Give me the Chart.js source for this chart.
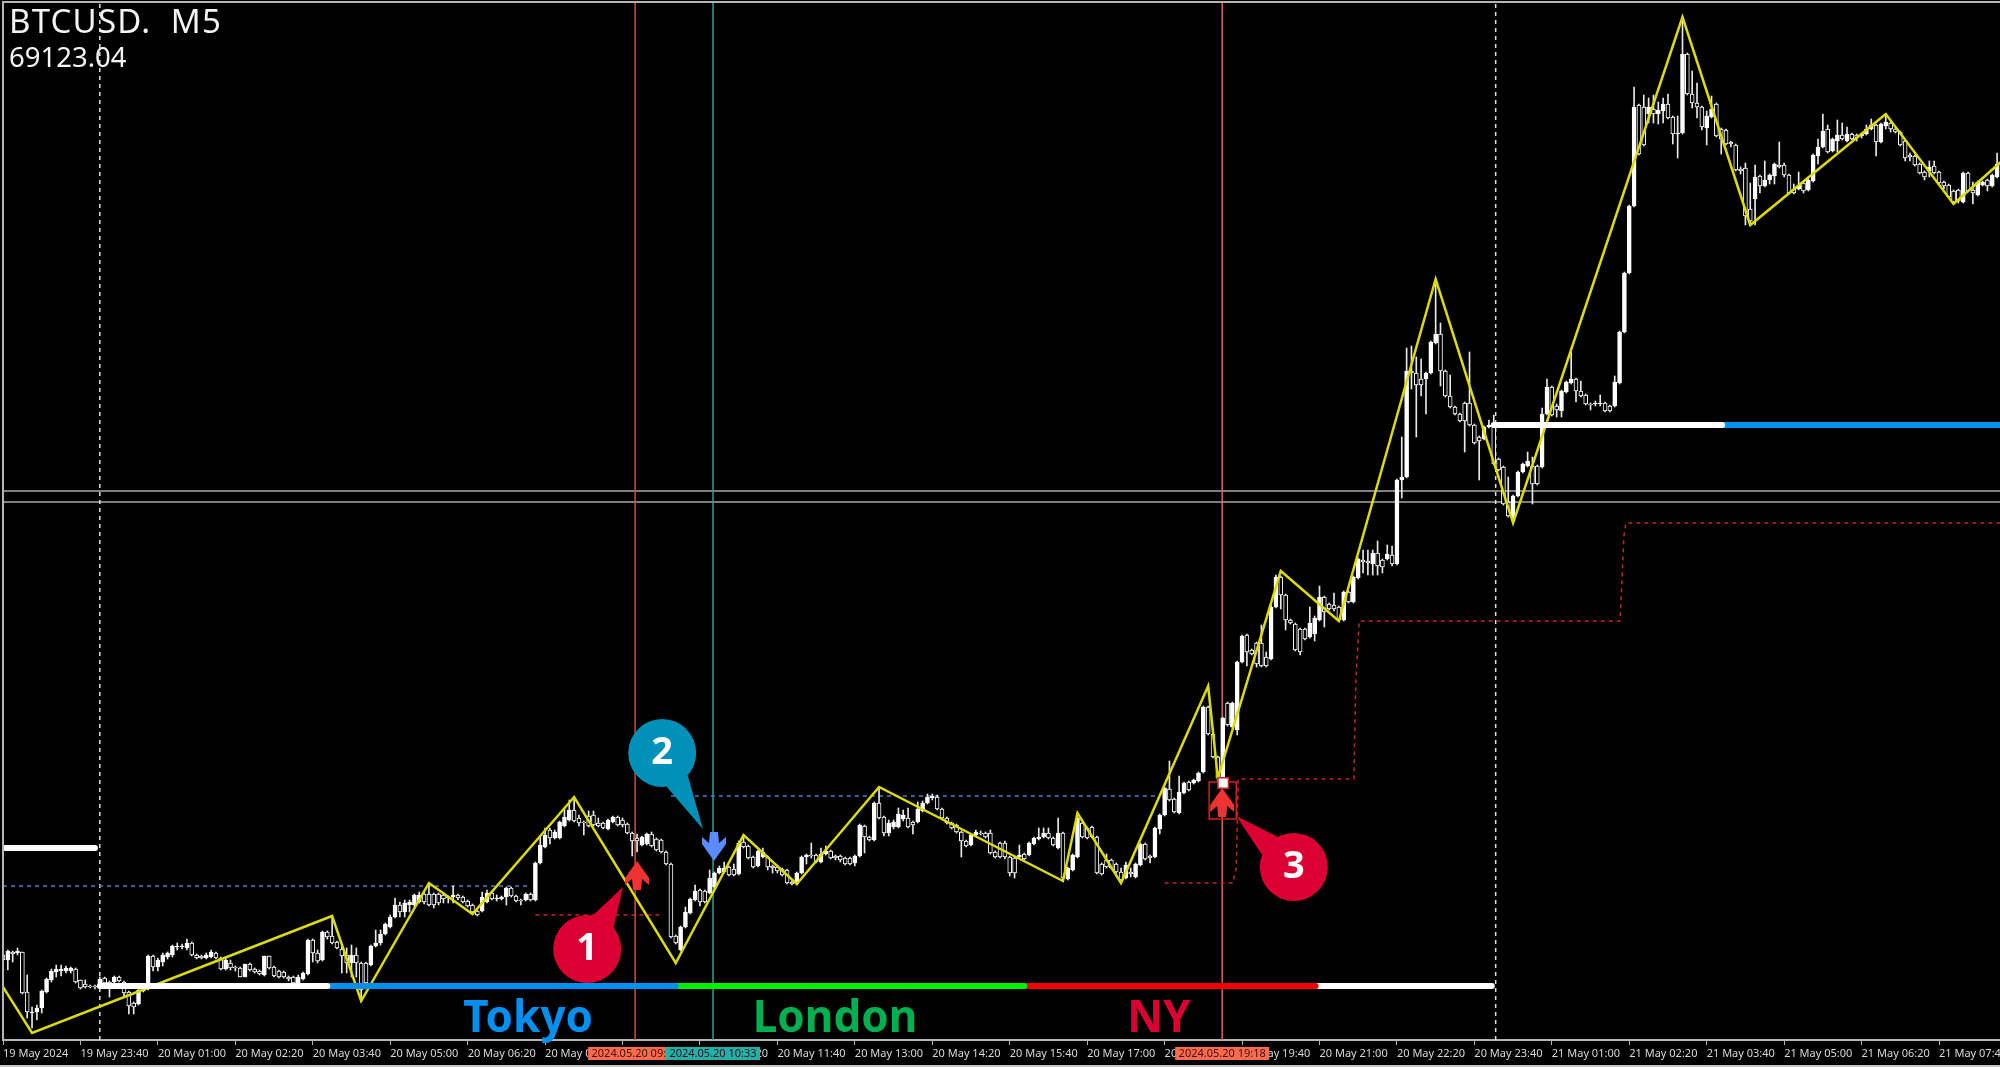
<!DOCTYPE html>
<html>
<head>
<meta charset="utf-8">
<title>BTCUSD M5</title>
<script src="https://cdn.jsdelivr.net/npm/chart.js@4"></script>
<style>
html,body{margin:0;padding:0;background:#000;overflow:hidden}
canvas{display:block}
</style>
</head>
<body>
<canvas id="chart" width="2000" height="1067"></canvas>
<script>
// x values are M5 bar numbers, y values are prices
const symbolLabel = 'BTCUSD.  M5';
const priceLabel = '69123.04';

const tickLabels = ['19 May 2024','19 May 23:40','20 May 01:00','20 May 02:20','20 May 03:40','20 May 05:00','20 May 06:20',
  '20 May 07:40','20 May 09:00','20 May 10:20','20 May 11:40','20 May 13:00','20 May 14:20','20 May 15:40','20 May 17:00',
  '20 May 18:20','20 May 19:40','20 May 21:00','20 May 22:20','20 May 23:40','21 May 01:00','21 May 02:20','21 May 03:40',
  '21 May 05:00','21 May 06:20','21 May 07:40'];
const barsPerTick = 16;

const opens = [
66800,66775,66815,66810,66815,66615,66510,66515,66535,66615,
66675,66715,66720,66720,66720,66730,66675,66655,66645,66645,
66640,66685,66665,66665,66690,66665,66615,66560,66555,66620,
66630,66795,66740,66765,66790,66800,66840,66840,66835,66860,
66800,66795,66785,66790,66810,66785,66730,66760,66740,66735,
66690,66755,66730,66720,66700,66795,66740,66720,66715,66690,
66690,66660,66680,66705,66875,66810,66775,66915,66895,66865,
66830,66800,66760,66800,66760,66760,66750,66845,66860,66905,
66940,66990,67050,67015,67050,67050,67065,67105,67105,67105,
67105,67100,67090,67090,67100,67090,67070,67050,67020,67020,
67065,67110,67080,67080,67090,67135,67095,67075,67075,67105,
67075,67260,67340,67425,67385,67385,67445,67475,67525,67485,
67465,67495,67500,67460,67460,67430,67465,67490,67475,67455,
67410,67385,67350,67355,67405,67380,67375,67315,67255,66895,
66825,66940,67010,67075,67125,67120,67110,67140,67210,67215,
67240,67230,67205,67365,67345,67290,67245,67290,67290,67245,
67240,67230,67225,67165,67155,67210,67290,67300,67300,67265,
67305,67320,67295,67295,67285,67285,67260,67295,67445,67390,
67375,67560,67490,67410,67440,67440,67480,67485,67465,67465,
67520,67560,67585,67590,67530,67485,67460,67450,67415,67370,
67350,67400,67410,67410,67410,67315,67360,67360,67290,67285,
67290,67305,67300,67355,67380,67390,67410,67385,67335,67410,
67180,67225,67290,67460,67435,67440,67390,67255,67275,67275,
67255,67215,67185,67215,67190,67250,67355,67295,67290,67430,
67500,67630,67580,67510,67610,67665,67660,67670,67715,68040,
67905,67790,67685,68060,67940,67925,68265,68400,68325,68360,
68360,68290,68280,68540,68690,68600,68475,68455,68430,68430,
68390,68405,68475,68590,68555,68550,68540,68475,68615,68565,
68685,68775,68770,68755,68810,68775,68780,68800,68755,69175,
69190,69720,69710,69680,69680,69710,69860,69905,69720,69595,
69540,69505,69560,69560,69450,69390,69380,69440,69455,69280,
69240,69065,68985,69095,69215,69245,69245,69245,69240,69505,
69640,69545,69520,69615,69660,69680,69620,69600,69555,69555,
69555,69560,69545,69545,69660,69915,70210,70545,71050,71040,
71005,71030,71005,71020,71055,70990,70905,70910,71305,71105,
71060,71040,70935,70990,71055,70930,70925,70865,70850,70730,
70735,70530,70580,70695,70645,70675,70695,70750,70750,70700,
70630,70630,70660,70625,70670,70795,70840,70930,70820,70870,
70900,70870,70905,70900,70895,70905,70930,70950,70865,70945,
70960,70930,70915,70870,70800,70795,70755,70715,70720,70745,
70715,70665,70650,70620,70625,70565,70710,70625,70600,70650,70675,70645,70690];
const closes = [
66775,66820,66805,66820,66610,66515,66515,66535,66620,66680,
66720,66730,66730,66735,66735,66665,66635,66640,66640,66640,
66680,66660,66640,66690,66670,66610,66545,66540,66625,66630,
66795,66740,66775,66800,66810,66845,66845,66845,66860,66800,
66785,66785,66800,66815,66785,66730,66775,66735,66735,66690,
66755,66725,66715,66705,66795,66735,66695,66690,66690,66680,
66660,66690,66710,66875,66810,66770,66915,66890,66860,66835,
66795,66760,66800,66760,66625,66660,66845,66860,66905,66955,
66990,67050,67015,67060,67065,67100,67100,67065,67050,67050,
67060,67080,67085,67100,67085,67065,67045,67015,67000,67090,
67110,67080,67085,67090,67135,67095,67070,67070,67105,67075,
67260,67350,67400,67385,67415,67465,67490,67525,67470,67460,
67460,67445,67450,67445,67435,67475,67490,67450,67450,67410,
67370,67370,67390,67405,67345,67325,67315,67255,66890,66860,
66940,67015,67080,67120,67065,67065,67185,67210,67235,67235,
67200,67200,67360,67340,67285,67240,67320,67315,67240,67235,
67220,67200,67160,67155,67210,67290,67300,67295,67265,67305,
67320,67285,67285,67275,67255,67255,67295,67450,67390,67375,
67560,67485,67410,67460,67465,67505,67500,67440,67450,67530,
67560,67590,67595,67530,67485,67460,67435,67415,67370,67345,
67400,67415,67405,67390,67310,67290,67290,67290,67210,67210,
67300,67280,67360,67385,67390,67410,67385,67350,67410,67185,
67235,67300,67485,67390,67385,67390,67210,67205,67240,67235,
67215,67175,67250,67205,67255,67355,67280,67285,67435,67500,
67635,67575,67515,67615,67660,67625,67675,67710,68040,67905,
67790,67685,67985,67950,68060,68265,68395,68315,68305,68255,
68245,68245,68540,68690,68600,68475,68460,68325,68315,68380,
68460,68485,68590,68515,68530,68530,68475,68615,68565,68690,
68780,68765,68760,68810,68745,68740,68805,68755,69175,69190,
69720,69710,69650,69650,69710,69865,69905,69720,69595,69540,
69505,69470,69470,69450,69360,69370,69440,69450,69255,69225,
69055,68995,69095,69215,69255,69270,69155,69155,69505,69640,
69500,69525,69620,69665,69680,69620,69595,69555,69550,69560,
69560,69520,69520,69665,69915,70210,70545,71040,70805,70850,
71040,71005,71025,71055,70985,70905,70910,71305,71105,71060,
71040,70940,70995,71030,70895,70880,70855,70855,70725,70720,
70495,70470,70690,70645,70675,70700,70755,70740,70700,70610,
70610,70650,70620,70675,70800,70840,70920,70815,70880,70900,
70880,70905,70880,70885,70905,70930,70950,70865,70955,70965,
70930,70915,70850,70785,70790,70750,70710,70690,70740,70710,
70660,70645,70590,70565,70570,70710,70620,70610,70665,70665,70645,70700,70755];
const highs = [
66815,66825,66820,66835,66815,66700,66540,66550,66625,66685,
66730,66750,66750,66745,66740,66735,66675,66675,66650,66650,
66690,66690,66670,66695,66695,66670,66620,66565,66630,66635,
66800,66800,66785,66810,66815,66850,66860,66855,66880,66865,
66805,66800,66810,66825,66815,66790,66790,66775,66745,66740,
66755,66760,66735,66725,66795,66795,66745,66725,66720,66695,
66695,66700,66715,66880,66880,66825,66920,66920,66990,66870,
66850,66835,66850,66835,66765,66765,66850,66925,66925,66960,
67000,67085,67065,67075,67075,67105,67115,67115,67155,67110,
67110,67110,67095,67145,67105,67095,67075,67055,67025,67115,
67125,67115,67100,67095,67140,67140,67100,67080,67110,67110,
67265,67390,67435,67435,67425,67470,67535,67575,67590,67500,
67470,67520,67520,67485,67465,67480,67495,67495,67485,67460,
67415,67405,67395,67410,67415,67385,67380,67320,67260,66900,
66945,67040,67085,67150,67130,67125,67225,67215,67245,67265,
67245,67255,67370,67400,67350,67295,67325,67335,67295,67250,
67245,67235,67230,67170,67215,67295,67305,67360,67305,67335,
67345,67325,67300,67300,67290,67290,67300,67455,67450,67395,
67565,67640,67495,67475,67475,67535,67525,67535,67470,67565,
67570,67605,67605,67600,67535,67490,67465,67455,67420,67375,
67405,67425,67420,67415,67425,67320,67365,67370,67295,67290,
67350,67310,67365,67390,67435,67435,67435,67390,67485,67415,
67240,67305,67490,67465,67440,67445,67395,67260,67305,67280,
67260,67235,67265,67235,67260,67360,67360,67300,67440,67505,
67640,67770,67585,67695,67665,67670,67680,67715,68045,68045,
67935,67795,67990,68065,68065,68270,68400,68405,68330,68365,
68450,68315,68550,68700,68695,68605,68480,68460,68435,68435,
68540,68495,68645,68595,68560,68610,68545,68620,68620,68695,
68785,68825,68825,68825,68870,68780,68850,68845,69180,69390,
69835,69845,69790,69780,69715,69870,70180,69960,69725,69700,
69545,69510,69565,69815,69455,69395,69445,69475,69500,69285,
69245,69190,69100,69220,69260,69315,69290,69250,69535,69680,
69645,69555,69625,69670,69815,69685,69670,69605,69560,69570,
69600,69565,69550,69695,69920,70215,70550,71140,71055,71100,
71085,71100,71065,71085,71105,70995,70995,71490,71310,71220,
71160,71045,71020,71095,71060,70935,70930,70870,70855,70740,
70760,70660,70750,70700,70770,70705,70760,70865,70760,70705,
70655,70715,70665,70680,70805,70880,71005,70950,70885,70975,
70960,70940,70910,70905,70910,70950,70980,70955,70960,71005,
70965,70935,70920,70875,70810,70800,70760,70720,70770,70770,
70720,70670,70655,70625,70630,70715,70715,70665,70670,70670,70680,70705,70810];
const lows = [
66735,66725,66765,66800,66605,66485,66435,66475,66510,66610,
66665,66690,66695,66710,66710,66660,66630,66635,66635,66630,
66635,66650,66590,66660,66665,66595,66505,66505,66550,66615,
66625,66720,66720,66745,66780,66790,66825,66830,66825,66795,
66780,66780,66780,66785,66780,66725,66725,66725,66720,66690,
66690,66720,66710,66700,66695,66730,66690,66685,66685,66670,
66655,66655,66675,66700,66765,66760,66770,66880,66855,66830,
66710,66710,66690,66690,66575,66630,66745,66840,66850,66900,
66935,66985,66990,66990,67015,67040,67060,67055,67045,67035,
67050,67060,67060,67060,67075,67060,67040,67010,66995,67015,
67060,67075,67070,67075,67050,67090,67065,67050,67070,67070,
67070,67255,67335,67355,67380,67380,67440,67470,67465,67445,
67400,67440,67445,67440,67430,67425,67460,67445,67440,67405,
67295,67315,67345,67350,67340,67320,67310,67250,66885,66855,
66820,66935,67005,67070,67045,67060,67105,67135,67205,67210,
67195,67195,67200,67335,67280,67235,67240,67285,67225,67210,
67210,67195,67155,67150,67150,67205,67255,67285,67260,67260,
67300,67280,67275,67265,67250,67250,67245,67290,67310,67370,
67370,67480,67395,67395,67430,67435,67470,67435,67405,67460,
67515,67555,67575,67525,67480,67455,67430,67410,67290,67340,
67345,67395,67400,67385,67305,67285,67285,67280,67195,67185,
67285,67275,67295,67350,67375,67385,67380,67345,67330,67180,
67175,67220,67285,67385,67380,67385,67205,67200,67235,67230,
67210,67170,67180,67190,67185,67245,67275,67260,67285,67405,
67495,67570,67510,67505,67605,67620,67655,67665,67710,67900,
67785,67680,67680,67945,67935,67900,68260,68245,68300,68240,
68240,68240,68275,68535,68530,68425,68455,68320,68300,68375,
68385,68370,68470,68440,68525,68520,68470,68470,68560,68560,
68680,68710,68700,68700,68700,68710,68775,68745,68750,69085,
69185,69630,69390,69595,69505,69705,69855,69645,69590,69535,
69500,69465,69315,69445,69355,69175,69375,69435,69250,69220,
69050,68990,68960,69090,69210,69240,69055,69150,69235,69500,
69495,69490,69490,69610,69655,69565,69590,69550,69525,69545,
69545,69515,69515,69540,69655,69910,70205,70540,70800,70845,
70960,70960,70955,70960,70980,70855,70785,70905,71100,71035,
70985,70925,70850,70985,70890,70805,70850,70840,70720,70705,
70450,70450,70450,70610,70640,70655,70655,70735,70690,70605,
70605,70625,70610,70620,70665,70755,70835,70810,70815,70815,
70875,70865,70875,70870,70885,70900,70925,70795,70860,70930,
70915,70910,70845,70770,70770,70745,70705,70675,70690,70705,
70655,70630,70585,70560,70560,70560,70615,70555,70595,70645,70620,70640,70685];

const zigzagBars = [0,6,68,74,88,97,118,139,153,164,181,219,222,231,249,251,264,276,296,312,347,361,389,403,413];
const zigzagPrices = [66640,66410,66995,66570,67160,67005,67590,66760,67400,67155,67640,67170,67510,67160,68145,67685,68720,68470,70180,68960,71490,70450,71005,70555,70770];

const stopBars = [240,254.1,254.8,255.2,279.1,279.5,280.2,334.1,334.9,335.3,413];
const stopPrices = [67160,67160,67235,67680,67680,68165,68470,68470,68895,68960,68960];
const firstStopBars = [110,136];
const firstStopPrice = 67000;

const rangeLines = [[0,109,67145],[138,239,67595]]; // from bar, to bar, price
const sessionLines = [[0.5,19,67335,'#ffffff'],[20,67,66645,'#ffffff'],[67.4,139,66645,'#0090f0'],
  [139.4,211,66645,'#00f000'],[211.4,271.2,66645,'#f00000'],[271.6,307.6,66645,'#ffffff'],
  [308,355.2,69450,'#ffffff'],[355.6,413,69450,'#0090f0']];
const priceLines = [69120,69065];
const dayBars = [20,308.4];
const entryBars = [[130.6,'#c8503c'],[146.7,'#3c9c8c'],[251.9,'#e8604c']];

const sessionTexts = [['Tokyo',108.5,'#0090f0'],['London',171.9,'#00b050'],['NY',238.8,'#dc0032']];
const sessionTextPrice = 66415;
const timeBoxes = [['2024.05.20 09:23',130.6,'#fa6a4c'],['2024.05.20 10:33',146.7,'#20b2aa'],['2024.05.20 19:18',251.9,'#fa6a4c']];
const callouts = [['1',120.7,66830,128.1,67140,'#dc0032'],['2',136.2,67810,144.6,67430,'#0090b8'],['3',266.7,67240,254.8,67495,'#dc0032']];
const upArrows = [[131,67270],[251.9,67635]];
const downArrow = [146.9,67270];
const markBox = [249.2,254.8,67665,67480];
const markDot = [252.1,67660];

const xMax = 412.6;
const yMin = 66375;
const yMax = 71565;

function barRow(a, b){
    return opens.map((o,i)=>({x:i, y:[a[i], b[i]]}));
}
function lineSet(points, color, width, dash, order){
    return {type:'line', data:points, borderColor:color, borderWidth:width, borderDash:dash||[],
        pointRadius:0, tension:0, order:order, borderCapStyle:'butt'};
}

const datasets = [];
// session bars on top, then zigzag, then candles, then guide lines
sessionLines.forEach(s=>{
    const d = lineSet([{x:s[0],y:s[2]},{x:s[1],y:s[2]}], s[3], 6, null, 1);
    d.borderCapStyle = 'round';
    datasets.push(d);
});
datasets.push(lineSet(zigzagBars.map((b,i)=>({x:b,y:zigzagPrices[i]})), '#dcdc00', 2.5, null, 2));
datasets.push({type:'bar', data:barRow(opens,closes), grouped:false, barThickness:4, borderWidth:1, borderSkipped:false,
    borderColor:'#ffffff', backgroundColor:opens.map((o,i)=>closes[i]>=o?'#ffffff':'#000000'), order:3});
datasets.push({type:'bar', data:barRow(lows,highs), grouped:false, barThickness:1, backgroundColor:'#e8e8e8', order:4});
datasets.push(lineSet(stopBars.map((b,i)=>({x:b,y:stopPrices[i]})), '#c02828', 1.5, [4,4], 5));
datasets.push(lineSet(firstStopBars.map(b=>({x:b,y:firstStopPrice})), '#c02828', 1.5, [4,4], 5));
rangeLines.forEach(r=>{
    datasets.push(lineSet([{x:r[0],y:r[2]},{x:r[1],y:r[2]}], '#4a7ed0', 1.5, [4,4], 5));
});
entryBars.forEach(v=>{
    datasets.push(lineSet([{x:v[0],y:yMin},{x:v[0],y:yMax}], v[1], 1.5, null, 6));
});
dayBars.forEach(b=>{
    datasets.push(lineSet([{x:b,y:yMin},{x:b,y:yMax}], '#e0e0e0', 1.5, [4,4], 6));
});
priceLines.forEach(p=>{
    datasets.push(lineSet([{x:0,y:p},{x:413,y:p}], '#a8a8a8', 1.5, null, 7));
});

const overlay = {
    id:'overlay',
    beforeDraw(chart){
        const ctx = chart.ctx;
        ctx.fillStyle = '#000';
        ctx.fillRect(0,0,chart.width,chart.height);
    },
    afterDraw(chart){
        const ctx = chart.ctx, X = chart.scales.x, Y = chart.scales.y, area = chart.chartArea;
        ctx.save();
        // frame
        ctx.fillStyle = '#b4b4b4';
        ctx.fillRect(area.left-1, 1, chart.width, 2);
        ctx.fillRect(area.left-1, 1, 2, area.bottom);
        ctx.fillStyle = '#c8c8c8';
        ctx.fillRect(0, chart.height-2, chart.width, 2);

        // symbol and price
        ctx.fillStyle = '#f4f4f4';
        ctx.textAlign = 'left';
        ctx.textBaseline = 'alphabetic';
        ctx.font = '33px "Noto Sans"';
        ctx.letterSpacing = '1.2px';
        ctx.fillText(symbolLabel, 9, 33);
        ctx.font = '27.5px "Noto Sans"';
        ctx.letterSpacing = '0px';
        ctx.fillText(priceLabel, 9, 67);

        // session names
        ctx.textAlign = 'center';
        ctx.font = 'bold 44px "Noto Sans"';
        sessionTexts.forEach(t=>{
            ctx.fillStyle = t[2];
            ctx.fillText(t[0], X.getPixelForValue(t[1]), Y.getPixelForValue(sessionTextPrice));
        });

        // time flags on the axis
        ctx.font = '11px "Noto Sans"';
        ctx.textBaseline = 'middle';
        timeBoxes.forEach(t=>{
            const cx = X.getPixelForValue(t[1]);
            ctx.fillStyle = t[2];
            ctx.fillRect(cx-47, area.bottom+7, 94, 13);
            ctx.fillStyle = '#401010';
            ctx.fillText(t[0], cx, area.bottom+13.5);
        });

        // arrows
        upArrows.forEach(a=>drawArrow(ctx, X.getPixelForValue(a[0]), Y.getPixelForValue(a[1]), 1, '#f03232'));
        drawArrow(ctx, X.getPixelForValue(downArrow[0]), Y.getPixelForValue(downArrow[1]), -1, '#5a8cff');

        // entry box and dot
        ctx.strokeStyle = '#d02020';
        ctx.lineWidth = 1.5;
        const bx = X.getPixelForValue(markBox[0]), by = Y.getPixelForValue(markBox[2]);
        ctx.strokeRect(bx, by, X.getPixelForValue(markBox[1])-bx, Y.getPixelForValue(markBox[3])-by);
        const dx = X.getPixelForValue(markDot[0]), dy = Y.getPixelForValue(markDot[1]);
        ctx.fillStyle = '#d02020';
        ctx.fillRect(dx-6, dy-6, 12, 12);
        ctx.fillStyle = '#ffffff';
        ctx.fillRect(dx-4.5, dy-4.5, 9, 9);

        // numbered callouts
        callouts.forEach(c=>{
            const x = X.getPixelForValue(c[1]), y = Y.getPixelForValue(c[2]);
            const tx = X.getPixelForValue(c[3]), ty = Y.getPixelForValue(c[4]);
            const ang = Math.atan2(ty-y, tx-x), r = 34;
            ctx.fillStyle = c[5];
            ctx.beginPath();
            ctx.arc(x, y, r, 0, Math.PI*2);
            ctx.fill();
            ctx.beginPath();
            ctx.moveTo(x+r*Math.cos(ang-0.36), y+r*Math.sin(ang-0.36));
            ctx.lineTo(tx, ty);
            ctx.lineTo(x+r*Math.cos(ang+0.36), y+r*Math.sin(ang+0.36));
            ctx.fill();
            ctx.fillStyle = '#ffffff';
            ctx.font = 'bold 38px "Noto Sans"';
            ctx.textAlign = 'center';
            ctx.textBaseline = 'middle';
            ctx.fillText(c[0], x, y);
        });
        ctx.restore();
    }
};

// dir 1 points up, -1 points down; (x,y) is the tip
function drawArrow(ctx, x, y, dir, color){
    ctx.fillStyle = color;
    ctx.beginPath();
    ctx.moveTo(x, y);
    ctx.lineTo(x+12, y+dir*17);
    ctx.lineTo(x+12, y+dir*24);
    ctx.lineTo(x+5, y+dir*18);
    ctx.lineTo(x+4, y+dir*29);
    ctx.lineTo(x-4, y+dir*29);
    ctx.lineTo(x-5, y+dir*18);
    ctx.lineTo(x-12, y+dir*24);
    ctx.lineTo(x-12, y+dir*17);
    ctx.closePath();
    ctx.fill();
}

new Chart(document.getElementById('chart'), {
    type:'bar',
    data:{datasets:datasets},
    plugins:[overlay],
    options:{
        responsive:false,
        animation:false,
        events:[],
        layout:{padding:{left:3,top:2,right:0,bottom:2}},
        plugins:{legend:{display:false},tooltip:{enabled:false},title:{display:false}},
        scales:{
            x:{
                type:'linear',
                min:0,
                max:xMax,
                offset:false,
                grid:{offset:false,drawOnChartArea:false,drawTicks:true,tickLength:5,color:'#b4b4b4',lineWidth:1},
                border:{color:'#b4b4b4',width:2},
                afterFit:function(s){ s.height = 25; s.paddingLeft = 0; s.paddingRight = 0; },
                afterBuildTicks:function(s){
                    s.ticks = tickLabels.map((t,i)=>({value:i*barsPerTick}));
                },
                ticks:{
                    autoSkip:false,
                    maxRotation:0,
                    minRotation:0,
                    align:'start',
                    padding:2,
                    color:'#d8d8d8',
                    font:{family:'"Noto Sans"',size:11},
                    callback:function(v,i){ return tickLabels[i]; }
                }
            },
            y:{type:'linear',min:yMin,max:yMax,display:false}
        }
    }
});
</script>
</body>
</html>
